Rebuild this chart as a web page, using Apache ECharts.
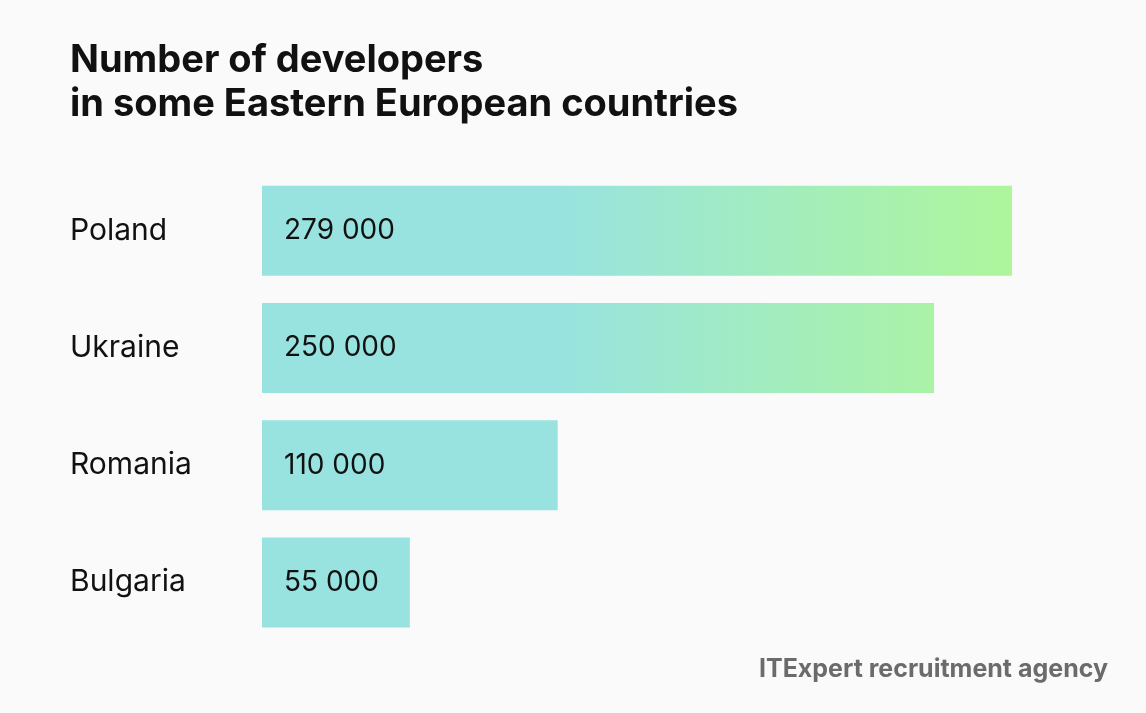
<!DOCTYPE html>
<html>
<head>
<meta charset="utf-8">
<script src="https://cdn.jsdelivr.net/npm/echarts@6/dist/echarts.min.js"></script>
<style>
html,body{margin:0;padding:0;background:#fafafa;}
#chart{width:1146px;height:713px;}
</style>
</head>
<body>
<div id="chart"></div>
<script>
const categories = ['Poland', 'Ukraine', 'Romania', 'Bulgaria'];
const values = [279000, 250000, 110000, 55000];
const titleLines = ['Number of developers', 'in some Eastern European countries'];
const footer = 'ITExpert recruitment agency';

const FONT = 'Inter';
const chart = echarts.init(document.getElementById('chart'), null, {renderer: 'canvas'});
const fmt = v => String(v).replace(/\B(?=(\d{3})+(?!\d))/g, ' ');

chart.setOption({
  backgroundColor: '#fafafa',
  animation: false,
  title: {
    text: titleLines.join('\n'),
    left: 65, top: 34,
    textStyle: {fontFamily: FONT, fontWeight: 'bold', fontSize: 38, color: '#111', lineHeight: 44}
  },
  graphic: [{
    type: 'text', right: 38, top: 657,
    style: {text: footer, font: 'bold 25px ' + FONT, fill: '#6b6b6b'}
  }],
  grid: {left: 262, right: 134, top: 172, height: 469, containLabel: false},
  xAxis: {
    type: 'value', min: 0, max: 279000, show: false
  },
  yAxis: {
    type: 'category', data: categories, inverse: true,
    axisLine: {show: false}, axisTick: {show: false},
    axisLabel: {
      align: 'left', margin: 192,
      fontFamily: FONT, fontSize: 30, color: '#111'
    }
  },
  series: [{
    type: 'bar',
    data: values,
    barWidth: 90,
    itemStyle: {
      color: new echarts.graphic.LinearGradient(560, 0, 1012, 0, [
        {offset: 0, color: '#98e3df'},
        {offset: 1, color: '#aef69b'}
      ], true)
    },
    label: {
      show: true, position: 'insideLeft', distance: 22,
      formatter: p => fmt(p.value),
      fontFamily: FONT, fontSize: 28, color: '#111'
    }
  }]
});
</script>
</body>
</html>
